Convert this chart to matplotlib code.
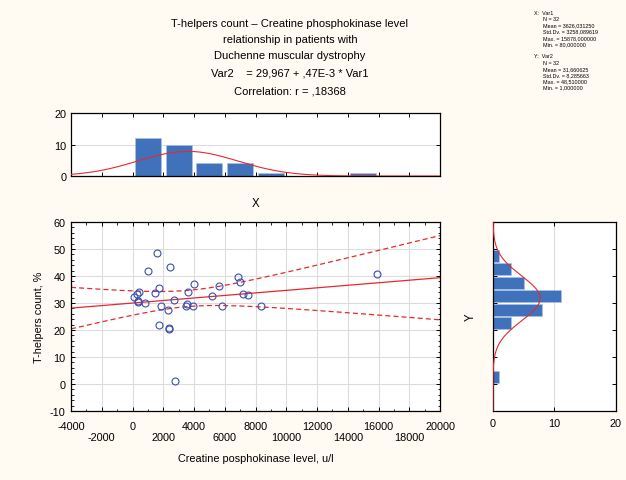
import numpy as np
import matplotlib
matplotlib.use('Agg')
import matplotlib.pyplot as plt
from matplotlib.ticker import MultipleLocator

plt.rcParams['font.family'] = ['Liberation Sans', 'DejaVu Sans']
plt.rcParams['axes.unicode_minus'] = False

# creatine phosphokinase (Var1) and T-helpers count (Var2)
cpk = [1582, 1040, 2449, 6890, 7000, 4030, 5634, 1755, 412, 282, 1452, 3640, 80, 347, 330,
       823, 2730, 1842, 2340, 3532, 3510, 3922, 5200, 7172, 7497, 5807, 8342, 15878,
       1755, 2405, 2362, 2795]
th = [48.51, 42.0, 43.2, 39.5, 37.7, 37.0, 36.2, 35.6, 34.2, 33.3, 33.6, 34.0, 32.1, 30.5, 30.6,
      29.8, 31.0, 29.0, 27.5, 29.6, 28.8, 29.0, 32.7, 33.5, 33.1, 28.8, 29.0, 40.9,
      21.9, 20.6, 20.4, 1.0]
intercept = 29.967
slope = 0.47e-3

stats_text = ("X:  Var1\n      N = 32\n      Mean = 3626,031250\n      Std.Dv. = 3258,089619\n"
              "      Max. = 15878,000000\n      Min. = 80,000000\n\n"
              "Y:  Var2\n      N = 32\n      Mean = 31,660625\n      Std.Dv. = 8,285663\n"
              "      Max. = 48,510000\n      Min. = 1,000000")

bg = '#fffbf3'
bar_c = '#3f72bb'
grid_c = '#dcdcdc'
fs = 7.8

x = np.array(cpk, float)
y = np.array(th, float)
n = len(x)

fig = plt.figure(figsize=(6.26, 4.81), dpi=100, facecolor=bg)
ax = fig.add_axes([0.1134, 0.1435, 0.5896, 0.393])
axt = fig.add_axes([0.1134, 0.632, 0.5896, 0.131])
axr = fig.add_axes([0.7875, 0.1435, 0.1965, 0.393])

for a in (ax, axt, axr):
    a.set_facecolor('white')
    for s in a.spines.values():
        s.set_linewidth(0.9)
    a.tick_params(direction='in', labelsize=fs, length=3, width=0.7, top=True, right=True)
    a.tick_params(which='minor', direction='in', length=1.8, width=0.6, top=True, right=True)

# scatter with regression and 95% confidence bands
xx = np.linspace(-4000, 20000, 300)
yy = intercept + slope * xx
res = y - (intercept + slope * x)
s = np.sqrt(np.sum(res ** 2) / (n - 2))
sxx = np.sum((x - x.mean()) ** 2)
half = 2.042 * s * np.sqrt(1 / n + (xx - x.mean()) ** 2 / sxx)
ax.grid(True, color=grid_c, lw=0.8)
ax.set_axisbelow(True)
ax.plot(xx, yy, color='#e8282c', lw=0.9)
ax.plot(xx, yy + half, color='#e8282c', lw=0.9, ls=(0, (4, 2.5)))
ax.plot(xx, yy - half, color='#e8282c', lw=0.9, ls=(0, (4, 2.5)))
ax.plot(x, y, 'o', mfc='none', mec='#3a4fae', ms=5, mew=0.8)
ax.set_xlim(-4000, 20000)
ax.set_ylim(-10, 60)
ax.xaxis.set_major_locator(MultipleLocator(2000))
ax.xaxis.set_minor_locator(MultipleLocator(1000))
ax.yaxis.set_major_locator(MultipleLocator(10))
ax.yaxis.set_minor_locator(MultipleLocator(2))
ticks = np.arange(-4000, 20001, 2000)
ax.set_xticks(ticks)
ax.set_xticklabels([str(t) if i % 2 == 0 else '\n' + str(t) for i, t in enumerate(ticks)],
                   linespacing=1.15)
ax.tick_params(axis='x', pad=7)
ax.tick_params(axis='y', pad=4)
ax.set_xlabel('Creatine posphokinase level, u/l', fontsize=fs, labelpad=8)
ax.set_ylabel('T-helpers count, %', fontsize=fs, labelpad=4)

# top histogram of X
bins_x = np.arange(-2000, 20001, 2000)
cnt_x, _ = np.histogram(x, bins=bins_x)
axt.bar(bins_x[:-1] + 1000, cnt_x, width=1700, color=bar_c, edgecolor='#a9c1e4',
        linewidth=0.5, zorder=2)
axt.plot(xx, n * 2000 * np.exp(-0.5 * ((xx - x.mean()) / x.std(ddof=1)) ** 2)
         / (x.std(ddof=1) * np.sqrt(2 * np.pi)), color='#e8282c', lw=0.8, zorder=3)
axt.set_xlim(-4000, 20000)
axt.set_ylim(0, 20)
axt.xaxis.set_major_locator(MultipleLocator(2000))
axt.yaxis.set_major_locator(MultipleLocator(10))
axt.tick_params(axis='x', labelbottom=False)
axt.grid(True, axis='y', color=grid_c, lw=0.8)
axt.set_axisbelow(True)
axt.set_xlabel('X', fontsize=fs + 0.5, labelpad=15)

# right histogram of Y
yy2 = np.linspace(-10, 60, 300)
bins_y = np.arange(0, 51, 5)
cnt_y, _ = np.histogram(y, bins=bins_y)
axr.barh(bins_y[:-1] + 2.5, cnt_y, height=4.3, color=bar_c, edgecolor='#a9c1e4',
         linewidth=0.5, zorder=2)
axr.plot(n * 5 * np.exp(-0.5 * ((yy2 - y.mean()) / y.std(ddof=1)) ** 2)
         / (y.std(ddof=1) * np.sqrt(2 * np.pi)), yy2, color='#e8282c', lw=0.8, zorder=3)
axr.set_ylim(-10, 60)
axr.set_xlim(0, 20)
axr.xaxis.set_major_locator(MultipleLocator(10))
axr.yaxis.set_major_locator(MultipleLocator(10))
axr.tick_params(axis='y', labelleft=False)
axr.tick_params(axis='x', pad=5)
axr.grid(True, axis='x', color=grid_c, lw=0.8)
axr.set_axisbelow(True)
axr.set_ylabel('Y', fontsize=fs + 0.5, labelpad=12)

# titles
title_lines = ['T-helpers count \u2013 Creatine phosphokinase level',
               'relationship in patients with', 'Duchenne muscular dystrophy',
               'Var2    = 29,967 + ,47E-3 * Var1', 'Correlation: r = ,18368']
for txt, ypix in zip(title_lines, [24, 40, 56, 74, 92]):
    fig.text(0.463, 1 - ypix / 481, txt, ha='center', va='center', fontsize=fs + 0.2)

fig.text(0.853, 1 - 11 / 481, stats_text, ha='left', va='top', fontsize=3.9, linespacing=1.3)

plt.savefig('out.png', dpi=100, facecolor=bg)
plt.close()
